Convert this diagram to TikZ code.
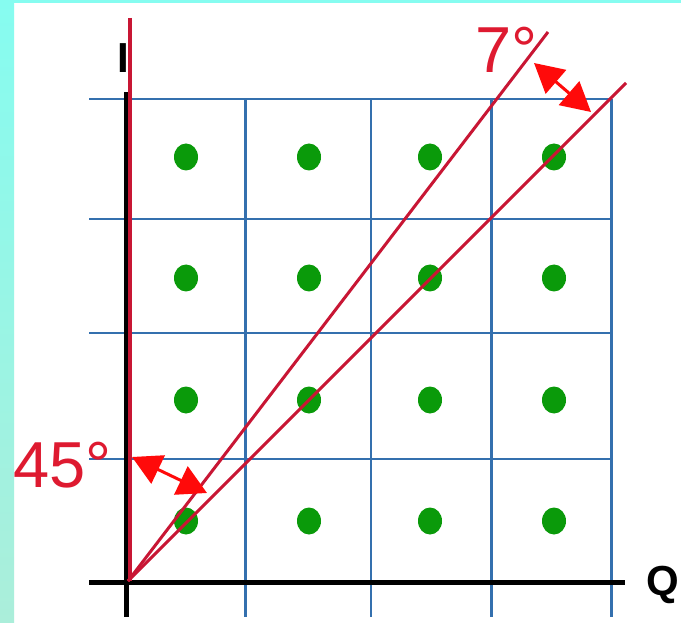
\documentclass[tikz,border=0pt]{standalone}
\usepackage{fontspec}
\setmainfont{Liberation Sans}
\usetikzlibrary{arrows.meta}
\definecolor{gridblue}{HTML}{3470AE}
\definecolor{linered}{HTML}{C81634}
\definecolor{arrowred}{HTML}{FF0A0A}
\definecolor{textred}{HTML}{DE1A30}
\definecolor{dotgreen}{HTML}{0A9A0A}
\definecolor{cyantop}{HTML}{86FCF0}
\definecolor{cyanbot}{HTML}{ABEEDA}
\tikzset{
  gridline/.style={draw=gridblue, line width=2.6pt},
  axisline/.style={draw=black, line width=5pt},
  phaseline/.style={draw=linered, line width=3pt},
  dblarrow/.style={draw=arrowred, line width=3pt, {Triangle[length=29pt,width=31pt]}-{Triangle[length=29pt,width=31pt]}},
  qdot/.style={ellipse, fill=dotgreen, minimum width=24pt, minimum height=27pt, inner sep=0pt},
  bigred/.style={text=textred, inner sep=0pt, anchor=base west, font=\fontsize{65}{65}\selectfont},
  axislabel/.style={text=black, inner sep=0pt, anchor=base west, font=\fontsize{42}{42}\selectfont\bfseries}
}
\usetikzlibrary{shapes.geometric}
\begin{document}
\begin{tikzpicture}[x=1pt,y=-1pt]
\useasboundingbox (0,0) rectangle (681,623);
\fill[white] (0,0) rectangle (681,623);
\shade[top color=cyantop, bottom color=cyanbot] (0,0) rectangle (14,623);
\fill[cyantop] (0,0) rectangle (681,3);
% grid
\foreach \y in {99,219,333,459} \draw[gridline] (89,\y) -- (611.5,\y);
\foreach \x in {245.5,371,491.5,611.5} \draw[gridline] (\x,99) -- (\x,617);
% axes
\draw[axisline] (126,92) -- (126,617);
\draw[axisline] (89,582) -- (625,582);
% dots
\foreach \cx [count=\i] in {186,309,430,554}
  \foreach \cy [count=\j] in {157,278,400,521}
    \node[qdot] (d\i\j) at (\cx,\cy) {};
% red lines
\coordinate (O) at (128,581);
\coordinate (itop) at (130,18);
\coordinate (iend) at (130,581);
\coordinate (l1) at (548,32);
\coordinate (l2) at (626,83);
\draw[phaseline, line width=3.5pt] (itop) -- (iend);
\draw[phaseline] (O) -- (l1);
\draw[phaseline] (O) -- (l2);
% arrows
\coordinate (a1s) at (132,457);
\coordinate (a1e) at (207,493);
\draw[dblarrow] (a1s) -- (a1e);
\coordinate (a2s) at (534,63);
\coordinate (a2e) at (591,112);
\draw[dblarrow] (a2s) -- (a2e);
% labels
\node[bigred] (l45) at (13,487) {45°};
\node[bigred] (l7) at (475,73) {7°};
\node[axislabel] (lI) at (117,73) {I};
\node[axislabel] (lQ) at (646,595) {Q};
\end{tikzpicture}
\end{document}
